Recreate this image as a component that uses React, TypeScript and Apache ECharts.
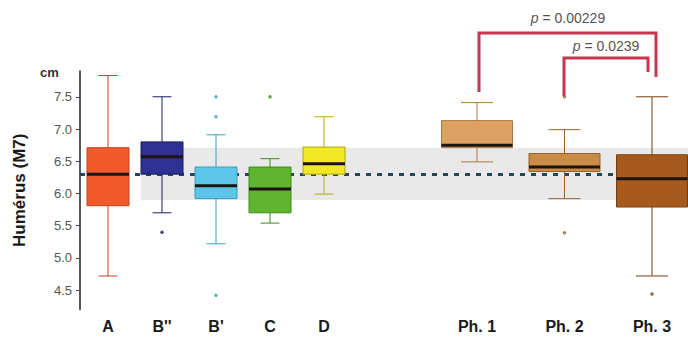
import React, { useEffect, useRef } from "react";
import * as echarts from "echarts";

// ---- data ----
const groupsLeft = ["A", "B''", "B'", "C", "D"];
const groupsRight = ["Ph. 1", "Ph. 2", "Ph. 3"];
// [min, Q1, median, Q3, max]
const statsLeft = [
  [4.72, 5.81, 6.3, 6.71, 7.83],
  [5.7, 6.3, 6.57, 6.8, 7.5],
  [5.22, 5.92, 6.12, 6.41, 6.91],
  [5.54, 5.7, 6.07, 6.41, 6.54],
  [5.99, 6.3, 6.46, 6.72, 7.19],
];
const statsRight = [
  [6.49, 6.71, 6.75, 7.13, 7.41],
  [5.92, 6.34, 6.41, 6.62, 6.99],
  [4.72, 5.79, 6.23, 6.6, 7.5],
];
// [group index, value]
const outliersLeft = [
  [1, 5.4],
  [2, 7.5],
  [2, 7.19],
  [2, 4.42],
  [3, 7.5],
];
const outliersRight = [
  [1, 7.5],
  [1, 5.39],
  [2, 4.44],
];
const referenceValue = 6.3;
const bandRange = [5.9, 6.71];
const yTicks = [4.5, 5.0, 5.5, 6.0, 6.5, 7.0, 7.5];
const pValues = ["0.00229", "0.0239"];

// ---- styles ----
const fillLeft = ["#f15a2b", "#2e3192", "#5bc6ea", "#5fb52e", "#f2e824"];
const edgeLeft = ["#c4421c", "#1b1d60", "#3d9cc0", "#3f8a1c", "#b3a80e"];
const fillRight = ["#dba262", "#c98b45", "#a65a1e"];
const edgeRight = ["#a97a40", "#98632a", "#76400f"];

const FONT = "'Liberation Sans', Arial, sans-serif";
const Y_MIN = 4.2;
const Y_MAX = 7.9;
const TOP = 71;
const HEIGHT = 238.5;

function boxRenderer(fills: string[], edges: string[], boxW: number) {
  return (params: any, api: any) => {
    const idx = api.value(0);
    const pt = (v: number) => api.coord([idx, v]);
    const [cx, yMin] = pt(api.value(1));
    const yQ1 = pt(api.value(2))[1];
    const yMed = pt(api.value(3))[1];
    const yQ3 = pt(api.value(4))[1];
    const yMax = pt(api.value(5))[1];
    const capW = boxW * 0.45;
    const fill = fills[idx];
    const edge = edges[idx];
    return {
      type: "group",
      children: [
        {
          type: "line",
          shape: { x1: cx, y1: yMax, x2: cx, y2: yMin },
          style: { stroke: edge, lineWidth: 1 },
        },
        {
          type: "line",
          shape: { x1: cx - capW / 2, y1: yMax, x2: cx + capW / 2, y2: yMax },
          style: { stroke: edge, lineWidth: 1 },
        },
        {
          type: "line",
          shape: { x1: cx - capW / 2, y1: yMin, x2: cx + capW / 2, y2: yMin },
          style: { stroke: edge, lineWidth: 1 },
        },
        {
          type: "rect",
          shape: { x: cx - boxW / 2, y: yQ3, width: boxW, height: yQ1 - yQ3 },
          style: { fill, stroke: edge, lineWidth: 1 },
        },
        {
          type: "rect",
          shape: { x: cx - boxW / 2, y: yMed - 1.5, width: boxW, height: 3 },
          style: { fill: "#1c1410" },
        },
      ],
    };
  };
}

export default function App() {
  const ref = useRef<HTMLDivElement>(null);
  useEffect(() => {
    if (!ref.current) return;
    const chart = echarts.init(ref.current, undefined, { renderer: "svg" });

    const yCommon = {
      type: "value",
      min: Y_MIN,
      max: Y_MAX,
      splitLine: { show: false },
    };
    const hiddenY = { ...yCommon, show: false };

    const leftData = statsLeft.map((s, i) => [i, ...s]);
    const rightData = statsRight.map((s, i) => [i, ...s]);

    const catLabel = {
      margin: 9,
      fontSize: 16,
      fontWeight: "bold",
      color: "#1a1a1a",
      fontFamily: FONT,
    };

    const pText = (text: string, x: number, y: number) => ({
      type: "text",
      z: 10,
      x,
      y,
      style: {
        text: "{i|p} = " + text,
        align: "center",
        verticalAlign: "middle",
        fontSize: 14,
        fill: "#555",
        fontFamily: FONT,
        rich: { i: { fontStyle: "italic", fontSize: 14, fill: "#555", fontFamily: FONT } },
      },
    });

    const option: any = {
      animation: false,
      backgroundColor: "#ffffff",
      textStyle: { fontFamily: FONT },
      grid: [
        { left: 80, width: 608, top: TOP, height: HEIGHT },
        { left: 81, width: 270, top: TOP, height: HEIGHT },
        { left: 477, width: 175, top: TOP, height: HEIGHT },
      ],
      xAxis: [
        { type: "value", gridIndex: 0, min: 0, max: 1, show: false },
        {
          type: "category",
          gridIndex: 1,
          data: groupsLeft,
          axisLine: { show: false },
          axisTick: { show: false },
          axisLabel: catLabel,
        },
        {
          type: "category",
          gridIndex: 2,
          data: groupsRight,
          boundaryGap: false,
          axisLine: { show: false },
          axisTick: { show: false },
          axisLabel: catLabel,
        },
      ],
      yAxis: [
        {
          ...yCommon,
          gridIndex: 0,
          name: "Humérus (M7)",
          nameLocation: "middle",
          nameGap: 52,
          nameTextStyle: {
            fontSize: 17,
            fontWeight: "bold",
            color: "#1a1a1a",
            fontFamily: FONT,
          },
          axisLine: { show: true, lineStyle: { color: "#222", width: 1.5 } },
          axisTick: {
            show: true,
            inside: false,
            length: 4,
            customValues: yTicks,
            lineStyle: { color: "#444" },
          },
          axisLabel: {
            customValues: yTicks,
            formatter: (v: number) => v.toFixed(1),
            fontSize: 13,
            color: "#555",
            margin: 8,
            fontFamily: FONT,
          },
        },
        { ...hiddenY, gridIndex: 1 },
        { ...hiddenY, gridIndex: 2 },
      ],
      series: [
        {
          type: "line",
          xAxisIndex: 0,
          yAxisIndex: 0,
          data: [[0, referenceValue]],
          showSymbol: false,
          lineStyle: { opacity: 0 },
          silent: true,
          z: 1,
          markArea: {
            silent: true,
            z: 1,
            itemStyle: { color: "#e9e9e9" },
            data: [
              [
                { xAxis: 0.1, yAxis: bandRange[0] },
                { xAxis: 1, yAxis: bandRange[1] },
              ],
            ],
          },
          markLine: {
            silent: true,
            z: 2,
            symbol: "none",
            label: { show: false },
            lineStyle: { color: "#234658", type: [5, 6], width: 3 },
            data: [{ yAxis: referenceValue }],
          },
        },
        {
          type: "custom",
          xAxisIndex: 1,
          yAxisIndex: 1,
          z: 3,
          data: leftData,
          renderItem: boxRenderer(fillLeft, edgeLeft, 42),
        },
        {
          type: "custom",
          xAxisIndex: 2,
          yAxisIndex: 2,
          z: 3,
          clip: false,
          data: rightData,
          renderItem: boxRenderer(fillRight, edgeRight, 71),
        },
        {
          type: "scatter",
          xAxisIndex: 1,
          yAxisIndex: 1,
          z: 4,
          symbol: "circle",
          symbolSize: 3.5,
          data: outliersLeft.map((o) => ({
            value: o,
            itemStyle: { color: edgeLeft[o[0]] },
          })),
        },
        {
          type: "scatter",
          xAxisIndex: 2,
          yAxisIndex: 2,
          z: 4,
          symbol: "circle",
          symbolSize: 3.5,
          clip: false,
          data: outliersRight.map((o) => ({
            value: o,
            itemStyle: { color: edgeRight[o[0]] },
          })),
        },
      ],
      graphic: [
        {
          type: "text",
          left: 40,
          top: 66,
          style: {
            text: "cm",
            fontSize: 13,
            fontWeight: "bold",
            fill: "#333",
            fontFamily: FONT,
          },
        },
        {
          type: "polyline",
          z: 10,
          shape: {
            points: [
              [479, 92],
              [479, 33],
              [656, 33],
              [656, 77],
            ],
          },
          style: { stroke: "#c9344e", lineWidth: 3, fill: "none" },
        },
        {
          type: "polyline",
          z: 10,
          shape: {
            points: [
              [564, 96],
              [564, 58],
              [648, 58],
              [648, 72],
            ],
          },
          style: { stroke: "#c9344e", lineWidth: 3, fill: "none" },
        },
        pText(pValues[0], 568, 18),
        pText(pValues[1], 606, 46),
      ],
    };

    chart.setOption(option);
    return () => chart.dispose();
  }, []);

  return <div ref={ref} style={{ width: 688, height: 340, position: "absolute", left: 0, top: 0 }} />;
}
